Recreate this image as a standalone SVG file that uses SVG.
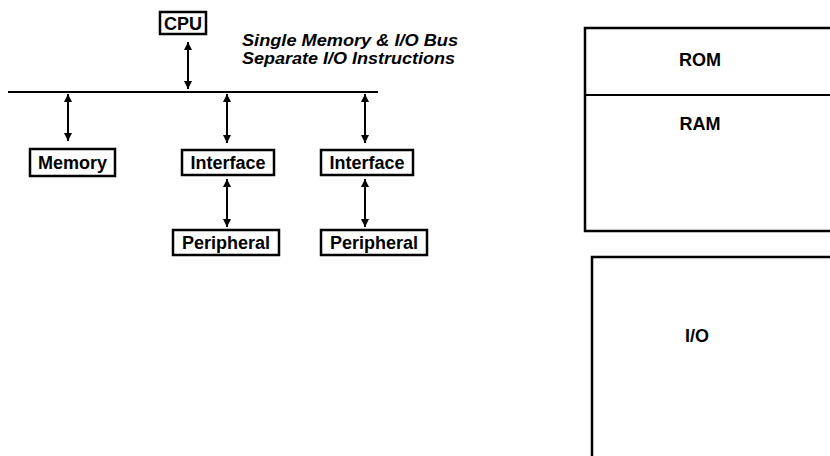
<svg xmlns="http://www.w3.org/2000/svg" width="830" height="456" viewBox="0 0 830 456">
<style>
.box{fill:#fff;stroke:#000;stroke-width:2.5}
.lbl{font-family:"Liberation Sans",Arial,sans-serif;font-weight:bold;font-size:18px;text-anchor:middle;fill:#000}
.note{font-family:"Liberation Sans",Arial,sans-serif;font-weight:bold;font-style:italic;font-size:16px;fill:#000}
.conn{stroke:#000;stroke-width:2;fill:none}
</style>
<defs>
<marker id="ah" viewBox="0 0 10 10" refX="10" refY="5" markerWidth="8" markerHeight="8" markerUnits="userSpaceOnUse" orient="auto-start-reverse">
<path d="M0,0 L10,5 L0,10 z" fill="#000"/>
</marker>
</defs>
<rect width="830" height="456" fill="#fff"/>
<g id="connectors">
<line class="conn" x1="8" y1="92" x2="378" y2="92" stroke-width="2.5"/>
<line class="conn" x1="188" y1="42" x2="188" y2="89" marker-start="url(#ah)" marker-end="url(#ah)"/>
<line class="conn" x1="68" y1="94" x2="68" y2="141" marker-start="url(#ah)" marker-end="url(#ah)"/>
<line class="conn" x1="227" y1="94" x2="227" y2="143" marker-start="url(#ah)" marker-end="url(#ah)"/>
<line class="conn" x1="365" y1="94" x2="365" y2="143" marker-start="url(#ah)" marker-end="url(#ah)"/>
<line class="conn" x1="227" y1="179" x2="227" y2="227" marker-start="url(#ah)" marker-end="url(#ah)"/>
<line class="conn" x1="365" y1="179" x2="365" y2="227" marker-start="url(#ah)" marker-end="url(#ah)"/>
</g>
<g id="cpu">
<rect class="box" x="160" y="12" width="46" height="22"/>
<text class="lbl" x="183" y="29.5">CPU</text>
</g>
<g id="note">
<text class="note" x="242" y="46" textLength="216" lengthAdjust="spacingAndGlyphs">Single Memory &amp; I/O Bus</text>
<text class="note" x="242" y="64" textLength="213" lengthAdjust="spacingAndGlyphs">Separate I/O Instructions</text>
</g>
<g id="memory">
<rect class="box" x="30" y="149" width="85" height="27"/>
<text class="lbl" x="72.5" y="169">Memory</text>
</g>
<g id="interface1">
<rect class="box" x="182" y="150" width="92" height="25"/>
<text class="lbl" x="228" y="169">Interface</text>
</g>
<g id="interface2">
<rect class="box" x="321" y="150" width="92" height="25"/>
<text class="lbl" x="367" y="169">Interface</text>
</g>
<g id="peripheral1">
<rect class="box" x="173" y="230" width="106" height="25"/>
<text class="lbl" x="226" y="249">Peripheral</text>
</g>
<g id="peripheral2">
<rect class="box" x="321" y="230" width="106" height="25"/>
<text class="lbl" x="374" y="249">Peripheral</text>
</g>
<g id="memory-map">
<rect class="box" x="585" y="28" width="260" height="203"/>
<line class="conn" x1="585" y1="95" x2="832" y2="95" stroke-width="2.5"/>
<text class="lbl" x="700" y="66">ROM</text>
<text class="lbl" x="700" y="130">RAM</text>
</g>
<g id="io-map">
<rect class="box" x="592" y="257" width="260" height="220"/>
<text class="lbl" x="697" y="342">I/O</text>
</g>
</svg>
